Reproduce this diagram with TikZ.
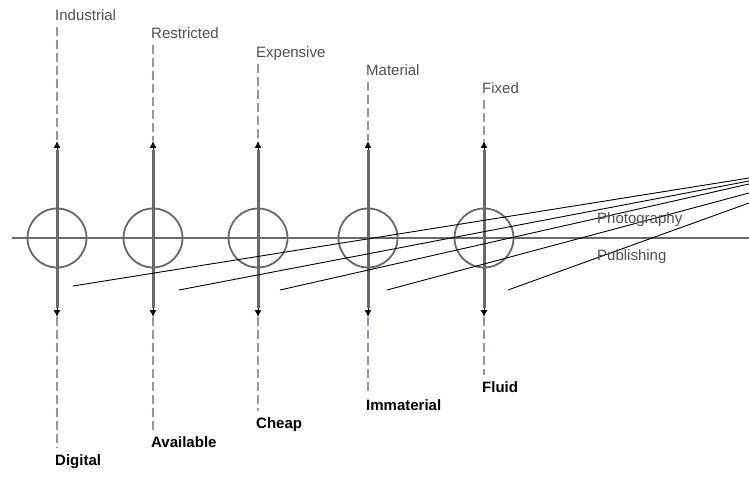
\documentclass[tikz,border=0pt]{standalone}
\usepackage{fontspec}
\setmainfont{Liberation Sans}
\usetikzlibrary{arrows.meta}
\definecolor{axisgray}{RGB}{105,105,105}
\definecolor{dashgray}{RGB}{150,150,165}
\definecolor{txtgray}{RGB}{80,80,80}
\tikzset{
  axisline/.style={draw=axisgray, line width=3pt},
  axistip/.style={draw=black, line width=1pt, -{Latex[length=7pt,width=7pt]}},
  dashline/.style={draw=dashgray, line width=1.4pt, dash pattern=on 9pt off 4pt},
  ring/.style={draw=axisgray, line width=1.8pt, circle, minimum size=59pt, inner sep=0pt},
  toplabel/.style={anchor=base west, inner sep=0pt, font=\fontsize{15}{17}\selectfont, text=txtgray},
  botlabel/.style={anchor=base west, inner sep=0pt, font=\fontsize{15}{17}\selectfont\bfseries, text=black},
  fanline/.style={draw=black, line width=0.9pt},
  medlabel/.style={anchor=base west, inner sep=0pt, font=\fontsize{15}{17}\selectfont, text=txtgray}
}
\begin{document}
\begin{tikzpicture}[x=1pt,y=-1pt]
\useasboundingbox (0,0) rectangle (749,478);
% horizontal axis
\coordinate (hl) at (12,238);
\coordinate (hr) at (749,238);
\draw[draw=axisgray, line width=2.2pt] (hl) -- (hr);
\foreach \i/\x/\tb/\bb/\tt/\bt in {1/57/21/465/Industrial/Digital,
                                    2/153/39/447/Restricted/Available,
                                    3/258/58/428/Expensive/Cheap,
                                    4/368/76/410/Material/Immaterial,
                                    5/484/94/392/Fixed/Fluid}{
  \node[toplabel] (t\i) at (\x-2,\tb) {\tt};
  \node[botlabel] (b\i) at (\x-2,\bb) {\bt};
  \coordinate (ts\i) at (\x,\tb+6);
  \coordinate (ta\i) at (\x,141);
  \coordinate (tn\i) at (\x,150);
  \coordinate (ba\i) at (\x,317);
  \coordinate (bn\i) at (\x,308);
  \coordinate (be\i) at (\x,\bb-17);
  \node[ring] (c\i) at (\x,238) {};
  \draw[dashline] (ts\i) -- (ta\i);
  \draw[dashline] (ba\i) -- (be\i);
  \draw[axisline] (tn\i) -- (bn\i);
  \draw[axistip] (tn\i) -- (ta\i);
  \draw[axistip] (bn\i) -- (ba\i);
}
% fan lines
\coordinate (r1) at (749,178);
\coordinate (r2) at (749,181);
\coordinate (r3) at (749,184);
\coordinate (r4) at (749,193);
\coordinate (r5) at (749,203);
\coordinate (l1) at (73,286);
\coordinate (l2) at (179,290);
\coordinate (l3) at (280,290);
\coordinate (l4) at (387,290);
\coordinate (l5) at (508,290);
\foreach \i in {1,...,5}{\draw[fanline] (r\i) -- (l\i);}
\node[medlabel] (photo) at (597,224) {Photography};
\node[medlabel] (publ) at (597,261) {Publishing};
\end{tikzpicture}
\end{document}
